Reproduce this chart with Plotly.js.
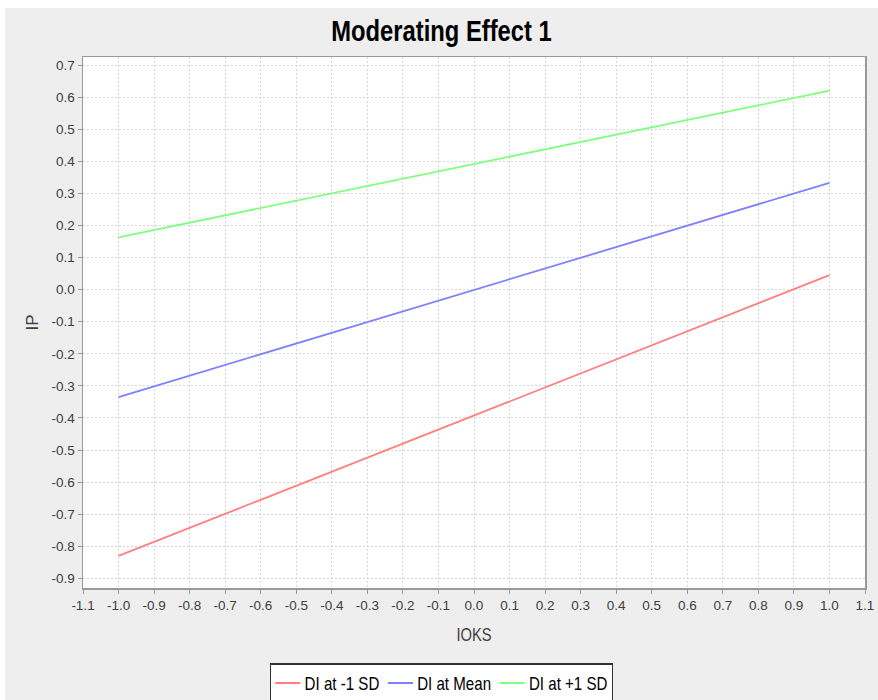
<!DOCTYPE html>
<html>
<head>
<meta charset="utf-8">
<script src="https://cdn.plot.ly/plotly-3.0.1.min.js"></script>
<style>
  html, body { margin: 0; padding: 0; background: #ffffff; width: 878px; height: 700px; overflow: hidden; }
  #chart { position: absolute; left: 5px; top: 8px; width: 873px; height: 692px; }
</style>
</head>
<body>
<div id="chart"></div>
<script>
// Data
const xValues = [-1.0, 1.0];
const seriesNames = ["DI at -1 SD", "DI at Mean", "DI at +1 SD"];
const lowSD = [-0.830, 0.045];
const meanDI = [-0.335, 0.333];
const highSD = [0.163, 0.620];
const seriesColors = ["#ff7f7f", "#7f7fff", "#7fff7f"];

const xTickVals = [-1.1,-1.0,-0.9,-0.8,-0.7,-0.6,-0.5,-0.4,-0.3,-0.2,-0.1,0.0,0.1,0.2,0.3,0.4,0.5,0.6,0.7,0.8,0.9,1.0,1.1];
const xTickText = ["-1.1","-1.0","-0.9","-0.8","-0.7","-0.6","-0.5","-0.4","-0.3","-0.2","-0.1","0.0","0.1","0.2","0.3","0.4","0.5","0.6","0.7","0.8","0.9","1.0","1.1"];
const yTickVals = [-0.9,-0.8,-0.7,-0.6,-0.5,-0.4,-0.3,-0.2,-0.1,0.0,0.1,0.2,0.3,0.4,0.5,0.6,0.7];
const yTickText = ["-0.9","-0.8","-0.7","-0.6","-0.5","-0.4","-0.3","-0.2","-0.1","0.0","0.1","0.2","0.3","0.4","0.5","0.6","0.7"];

const seriesValues = [lowSD, meanDI, highSD];
const traces = seriesValues.map((ys, i) => ({
  x: xValues,
  y: ys,
  type: "scatter",
  mode: "lines",
  name: seriesNames[i],
  line: { color: seriesColors[i], width: 1.8 },
  hoverinfo: "skip"
}));

const SANS = "Liberation Sans, Arial, Helvetica, sans-serif";
const tickFont = { family: SANS, size: 13.5, color: "#404040" };
const axisCommon = {
  showgrid: true,
  gridcolor: "#d6d6d6",
  griddash: "2px,2px",
  gridwidth: 1,
  zeroline: false,
  showline: true,
  linecolor: "#999999",
  linewidth: 1.5,
  mirror: true,
  ticks: "outside",
  ticklen: 4,
  tickcolor: "#999999",
  tickfont: tickFont,
  tickmode: "array"
};

const layout = {
  width: 873,
  height: 692,
  paper_bgcolor: "#eeeeee",
  plot_bgcolor: "#ffffff",
  margin: { l: 78, r: 13, t: 49, b: 112 },
  title: {
    text: "<b>Moderating Effect 1</b>",
    font: { family: SANS, size: 29, color: "#000000" },
    x: 0.5, xanchor: "center", xref: "container",
    y: 0.982, yref: "container", yanchor: "top"
  },
  xaxis: Object.assign({}, axisCommon, {
    range: [-1.1, 1.1],
    tickvals: xTickVals,
    ticktext: xTickText,
    title: { text: "IOKS", font: { family: SANS, size: 18, color: "#404040" }, standoff: 16 }
  }),
  yaxis: Object.assign({}, axisCommon, {
    range: [-0.930, 0.725],
    tickvals: yTickVals,
    ticktext: yTickText,
    title: { text: "IP", font: { family: SANS, size: 17, color: "#404040" }, standoff: 8 }
  }),
  showlegend: true,
  legend: {
    orientation: "h",
    x: 0.5, xanchor: "center", xref: "container",
    y: 0.053, yanchor: "top", yref: "container",
    bgcolor: "#ffffff",
    bordercolor: "#333333",
    borderwidth: 1.5,
    font: { family: SANS, size: 18, color: "#000000" },
    itemwidth: 30,
    tracegroupgap: 0
  }
};

// Narrow-font look: squeeze some text groups horizontally about their centre
function squeezeGroup(el, s) {
  if (!el) return;
  const bb = el.getBBox();
  const cx = bb.x + bb.width / 2;
  const prev = el.getAttribute("transform") || "";
  let tx = 0, ty = 0;
  const m = prev.match(/translate\(\s*([-\d.e]+)[ ,]+([-\d.e]+)\s*\)/);
  if (m) { tx = parseFloat(m[1]); ty = parseFloat(m[2]); }
  el.setAttribute("transform", `translate(${tx + cx * (1 - s)},${ty}) scale(${s},1)`);
}

Plotly.newPlot("chart", traces, layout, { displayModeBar: false, staticPlot: true }).then(gd => {
  squeezeGroup(gd.querySelector("g.g-gtitle"), 0.82);
  squeezeGroup(gd.querySelector("g.g-xtitle"), 0.82);
  squeezeGroup(gd.querySelector("g.legend"), 0.84);
});
</script>
</body>
</html>
